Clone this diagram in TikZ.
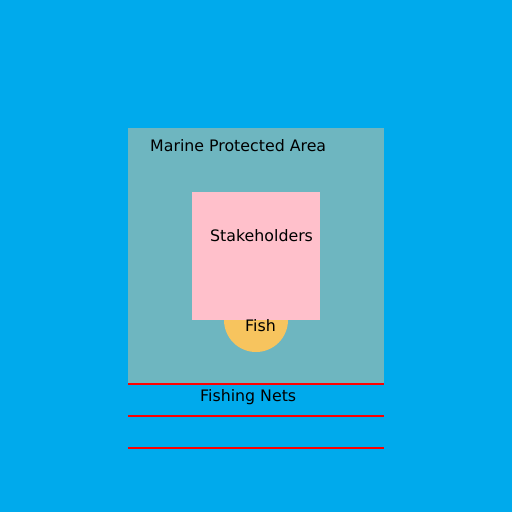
\documentclass[tikz,border=0pt]{standalone}
\usepackage{fontspec}
\setmainfont{DejaVu Sans}
\definecolor{sea}{RGB}{0,170,236}
\definecolor{mpa}{RGB}{110,182,192}
\definecolor{stake}{RGB}{255,192,203}
\definecolor{fishc}{RGB}{247,196,94}
\begin{document}
\begin{tikzpicture}[x=1pt,y=-1pt,
  lbl/.style={anchor=base west,inner sep=0pt,font=\fontsize{15.8}{18}\selectfont,text=black},
  net/.style={draw=red,line width=1.5pt}]
\fill[sea] (0,0) rectangle (512,512);
\useasboundingbox (0,0) rectangle (512,512);
\fill[mpa] (128,128) rectangle (384,384);
\node[circle,fill=fishc,minimum size=64pt,inner sep=0pt] (fish) at (256,320) {};
\fill[stake] (192,192) rectangle (320,320);
\node[lbl] (mpaL) at (150,151) {Marine Protected Area};
\node[lbl] (stL) at (210,241) {Stakeholders};
\node[lbl] (fishL) at (245,331) {Fish};
\node[lbl] (netL) at (200,401) {Fishing Nets};
\coordinate (n1a) at (128,384); \coordinate (n1b) at (384,384);
\coordinate (n2a) at (128,416); \coordinate (n2b) at (384,416);
\coordinate (n3a) at (128,448); \coordinate (n3b) at (384,448);
\draw[net] (n1a) -- (n1b);
\draw[net] (n2a) -- (n2b);
\draw[net] (n3a) -- (n3b);
\end{tikzpicture}
\end{document}
